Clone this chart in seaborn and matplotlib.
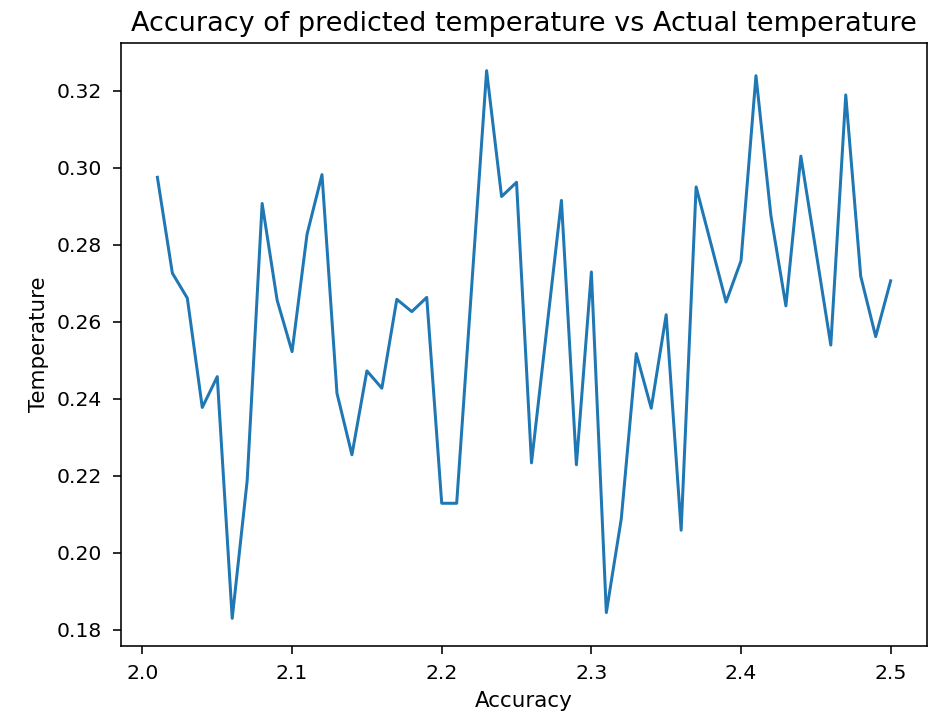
import matplotlib
matplotlib.use("Agg")
import matplotlib.pyplot as plt
import seaborn as sns
import pandas as pd

# Accuracy values (x) and the corresponding temperature readings (y)
accuracy = [2.01, 2.02, 2.03, 2.04, 2.05, 2.06, 2.07, 2.08, 2.09, 2.10,
            2.11, 2.12, 2.13, 2.14, 2.15, 2.16, 2.17, 2.18, 2.19, 2.20,
            2.21, 2.22, 2.23, 2.24, 2.25, 2.26, 2.27, 2.28, 2.29, 2.30,
            2.31, 2.32, 2.33, 2.34, 2.35, 2.36, 2.37, 2.38, 2.39, 2.40,
            2.41, 2.42, 2.43, 2.44, 2.45, 2.46, 2.47, 2.48, 2.49, 2.50]
temperature = [0.2975, 0.2726, 0.2661, 0.2377, 0.2457, 0.1829, 0.2187, 0.2907, 0.2656, 0.2522,
               0.2827, 0.2982, 0.2414, 0.2254, 0.2472, 0.2427, 0.2658, 0.2626, 0.2663, 0.2128,
               0.2128, 0.2690, 0.3252, 0.2925, 0.2962, 0.2233, 0.2574, 0.2915, 0.2228, 0.2729,
               0.1844, 0.2088, 0.2517, 0.2375, 0.2618, 0.2058, 0.2950, 0.2801, 0.2651, 0.2758,
               0.3239, 0.2875, 0.2641, 0.3030, 0.2785, 0.2539, 0.3189, 0.2718, 0.2561, 0.2706]

df = pd.DataFrame({"Accuracy": accuracy, "Temperature": temperature})

fig = plt.figure(figsize=(933 / 144, 717 / 144), dpi=144)
ax = fig.add_axes([0.1294, 0.0994, 0.9939 - 0.1294, 0.9396 - 0.0994])

sns.lineplot(data=df, x="Accuracy", y="Temperature", ax=ax, color="#1f77b4", linewidth=1.5)

ax.set_title("Accuracy of predicted temperature vs Actual temperature", fontsize=13.5)
ax.set_xlabel("Accuracy", fontsize=10.7)
ax.set_ylabel("Temperature", fontsize=10.7)
ax.tick_params(labelsize=10.2, length=3.8, pad=5.5)

fig.savefig("out.png", dpi=144)
